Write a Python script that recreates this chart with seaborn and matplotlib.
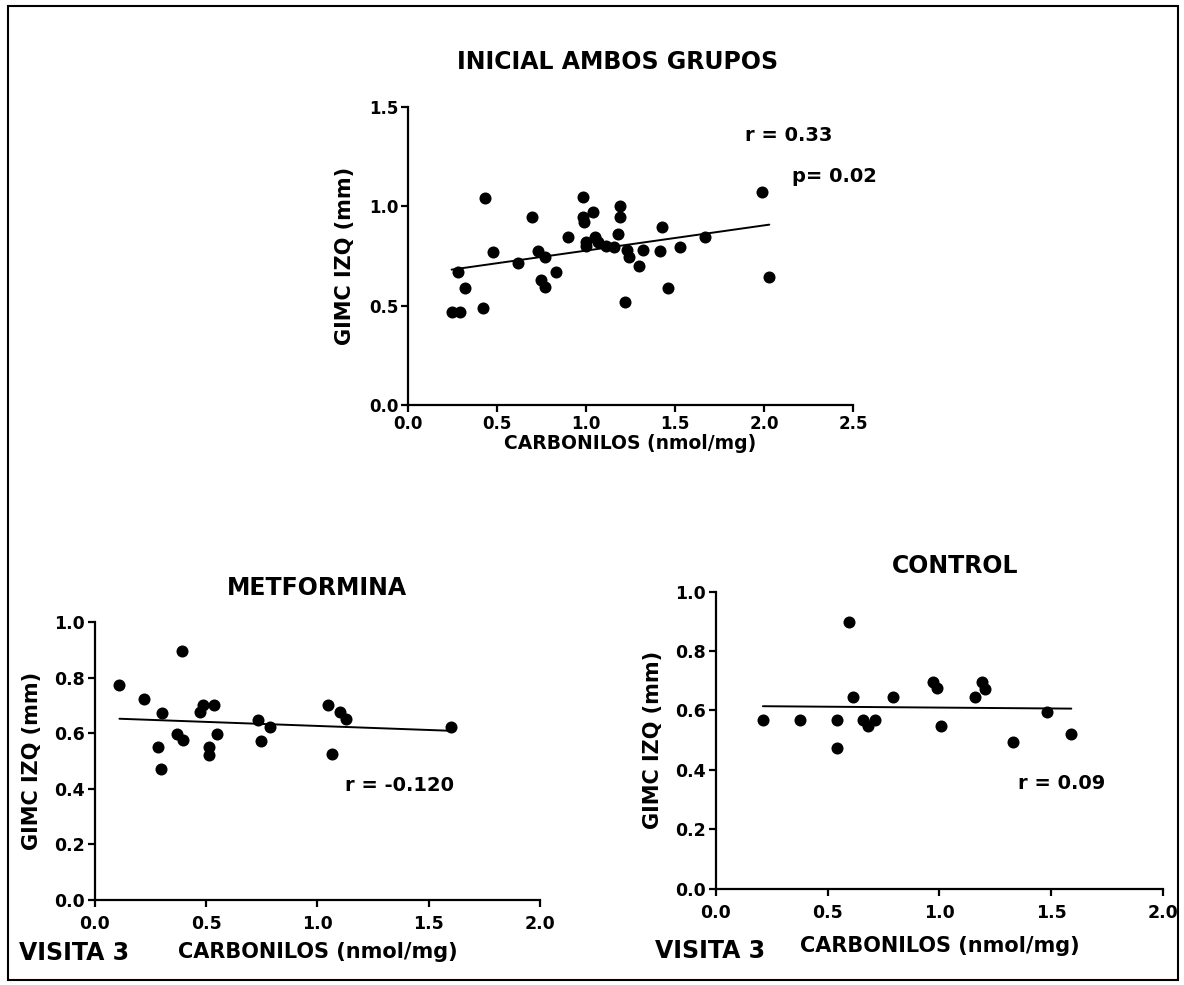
import numpy as np
import pandas as pd
import matplotlib
matplotlib.use('Agg')
import matplotlib.pyplot as plt
import seaborn as sns
from matplotlib.patches import Rectangle

## data
## top: initial, both groups
x_all = [0.245, 0.29, 0.28, 0.32, 0.42, 0.43, 0.48, 0.62, 0.695, 0.73,
         0.77, 0.75, 0.77, 0.83, 0.90, 0.985, 0.985, 0.99, 1.04, 1.00,
         1.00, 1.05, 1.07, 1.115, 1.16, 1.19, 1.19, 1.18, 1.22, 1.23,
         1.24, 1.30, 1.32, 1.415, 1.425, 1.46, 1.53, 1.67, 1.99, 2.03]
y_all = [0.47, 0.47, 0.67, 0.59, 0.49, 1.04, 0.77, 0.715, 0.945, 0.775,
         0.745, 0.63, 0.595, 0.67, 0.845, 1.045, 0.945, 0.92, 0.97, 0.82,
         0.80, 0.845, 0.82, 0.80, 0.795, 1.00, 0.945, 0.86, 0.52, 0.78,
         0.745, 0.70, 0.78, 0.775, 0.895, 0.59, 0.795, 0.845, 1.07, 0.645]

## bottom left: metformina, visit 3
x_met = [0.11, 0.39, 0.22, 0.30, 0.285, 0.297, 0.367, 0.397, 0.47, 0.484,
         0.536, 0.514, 0.514, 0.55, 0.734, 0.745, 0.787, 1.046, 1.10, 1.127,
         1.064, 1.60]
y_met = [0.774, 0.897, 0.723, 0.671, 0.549, 0.471, 0.597, 0.575, 0.675, 0.70,
         0.70, 0.549, 0.522, 0.597, 0.648, 0.573, 0.624, 0.70, 0.675, 0.651,
         0.525, 0.623]

## bottom right: control, visit 3
x_con = [0.21, 0.376, 0.54, 0.54, 0.595, 0.614, 0.66, 0.68, 0.71, 0.79,
         0.972, 0.99, 1.007, 1.16, 1.19, 1.204, 1.33, 1.48, 1.59]
y_con = [0.568, 0.568, 0.568, 0.475, 0.897, 0.646, 0.568, 0.548, 0.568, 0.646,
         0.697, 0.675, 0.548, 0.646, 0.697, 0.672, 0.495, 0.596, 0.521]

sns.set_style('ticks')
plt.rcParams['font.family'] = ['DejaVu Sans']
plt.rcParams['font.weight'] = 'bold'
for k in ['text.color', 'axes.labelcolor', 'xtick.color', 'ytick.color']:
    plt.rcParams[k] = 'black'

fig = plt.figure(figsize=(11.84, 9.85), dpi=100)

def prism_axes(ax, xlim, ylim, xticks, yticks, tsize, xpad):
    ax.set_xlim(xlim)
    ax.set_ylim(ylim)
    ax.set_xticks(xticks)
    ax.set_yticks(yticks)
    ax.set_xticklabels(['%.1f' % t for t in xticks], fontsize=tsize, fontweight='bold')
    ax.set_yticklabels(['%.1f' % t for t in yticks], fontsize=tsize, fontweight='bold')
    for s in ['top', 'right']:
        ax.spines[s].set_visible(False)
    for s in ['left', 'bottom']:
        ax.spines[s].set_linewidth(1.6)
        ax.spines[s].set_color('black')
    ax.tick_params(direction='out', length=5, width=1.6, colors='black')
    ax.tick_params(axis='x', pad=xpad)
    ax.tick_params(axis='y', pad=2)

def scatter_fit(ax, x, y):
    df = pd.DataFrame({'x': x, 'y': y})
    sns.regplot(data=df, x='x', y='y', ax=ax, ci=None,
                scatter_kws={'s': 75, 'color': 'black', 'alpha': 1, 'linewidths': 0},
                line_kws={'color': 'black', 'linewidth': 1.4})

def labels(ax, xsize, xy):
    ax.set_xlabel('CARBONILOS (nmol/mg)', fontsize=xsize, fontweight='bold', va='top')
    ax.set_ylabel('GIMC IZQ (mm)', fontsize=15, fontweight='bold')
    ax.xaxis.set_label_coords(0.5, xy)
    ax.yaxis.set_label_coords(-0.119, 0.5)

# top plot
ax1 = fig.add_axes([0.3446, 0.5888, 0.3758, 0.3026])
scatter_fit(ax1, x_all, y_all)
prism_axes(ax1, (0, 2.5), (0, 1.5), [0, 0.5, 1.0, 1.5, 2.0, 2.5], [0, 0.5, 1.0, 1.5], 12, 2)
labels(ax1, 13.5, -0.098)
fig.text(0.522, 0.937, 'INICIAL AMBOS GRUPOS', ha='center', va='center',
         fontsize=17, fontweight='bold')
fig.text(0.629, 0.862, 'r = 0.33', ha='left', va='center', fontsize=14, fontweight='bold')
fig.text(0.669, 0.821, 'p= 0.02', ha='left', va='center', fontsize=14, fontweight='bold')

# bottom left
ax2 = fig.add_axes([0.0802, 0.0863, 0.3758, 0.2822])
scatter_fit(ax2, x_met, y_met)
prism_axes(ax2, (0, 2.0), (0, 1.0), [0, 0.5, 1.0, 1.5, 2.0], [0, 0.2, 0.4, 0.6, 0.8, 1.0], 12.5, 6)
labels(ax2, 15, -0.15)
fig.text(0.268, 0.403, 'METFORMINA', ha='center', va='center', fontsize=17, fontweight='bold')
fig.text(0.291, 0.203, 'r = -0.120', ha='left', va='center', fontsize=14, fontweight='bold')
fig.text(0.016, 0.0325, 'VISITA 3', ha='left', va='center', fontsize=17, fontweight='bold')

# bottom right
ax3 = fig.add_axes([0.6047, 0.0978, 0.3775, 0.3015])
scatter_fit(ax3, x_con, y_con)
prism_axes(ax3, (0, 2.0), (0, 1.0), [0, 0.5, 1.0, 1.5, 2.0], [0, 0.2, 0.4, 0.6, 0.8, 1.0], 12.5, 6)
labels(ax3, 15, -0.16)
fig.text(0.807, 0.425, 'CONTROL', ha='center', va='center', fontsize=17, fontweight='bold')
fig.text(0.860, 0.205, 'r = 0.09', ha='left', va='center', fontsize=14, fontweight='bold')
fig.text(0.553, 0.035, 'VISITA 3', ha='left', va='center', fontsize=17, fontweight='bold')

# outer frame
fig.add_artist(Rectangle((0.007, 0.005), 0.988, 0.989, transform=fig.transFigure,
                         fill=False, edgecolor='black', linewidth=1.5))

fig.savefig('out.png', dpi=100)
